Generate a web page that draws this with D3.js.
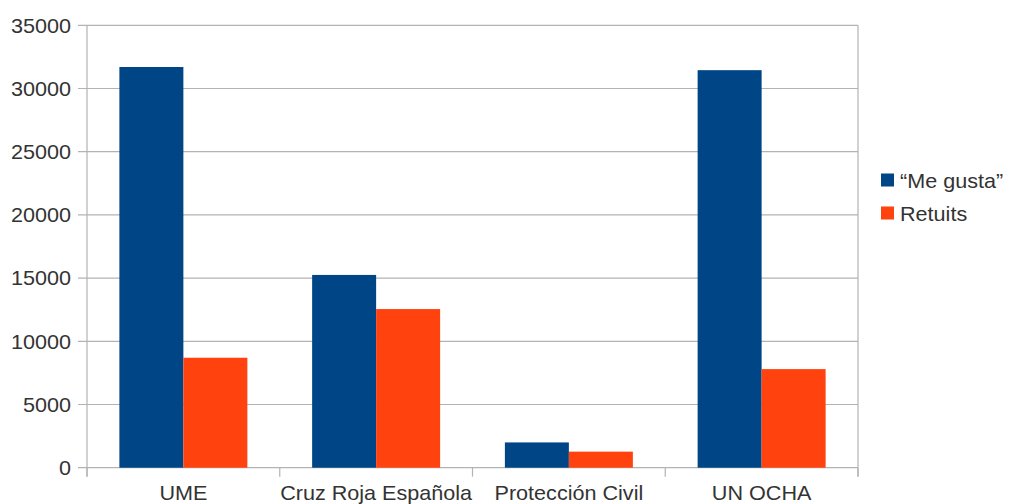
<!DOCTYPE html>
<html><head><meta charset="utf-8">
<script src="https://cdn.jsdelivr.net/npm/d3@7"></script>
<style>body{margin:0;background:#fff}svg{display:block}text{font-family:"Liberation Sans",Arial,sans-serif;fill:#333}</style>
</head><body><svg id="c" width="1009" height="504"></svg>
<script>
const categories = ["UME", "Cruz Roja Española", "Protección Civil", "UN OCHA"];
const seriesNames = ["\u201cMe gusta\u201d", "Retuits"];
const meGusta = [31700, 15250, 2000, 31450];
const retuits = [8700, 12550, 1270, 7800];
const yTicks = [0, 5000, 10000, 15000, 20000, 25000, 30000, 35000];
const colors = ["#004586", "#ff420e"];

const svg = d3.select("#c");
const pL = 87, pR = 858, pT = 25.3, pB = 467.7;
const sx = 1.08;
const x = d3.scaleBand().domain(categories).range([pL, pR]);
const y = d3.scaleLinear().domain([0, 35000]).range([pB, pT]);
const barW = x.bandwidth() * 0.332;
const inner = d3.scaleBand().domain([0, 1]).range([0, barW * 2]);

svg.append("g").selectAll("line").data(yTicks).join("line")
  .attr("x1", pL - 9).attr("x2", pR)
  .attr("y1", d => y(d)).attr("y2", d => y(d))
  .attr("stroke", "#b3b3b3").attr("stroke-width", 1.2);
svg.append("line").attr("x1", pL).attr("x2", pL).attr("y1", pT).attr("y2", pB + 9).attr("stroke", "#b3b3b3").attr("stroke-width", 1.2);
svg.append("line").attr("x1", pR).attr("x2", pR).attr("y1", pT).attr("y2", pB + 9).attr("stroke", "#b3b3b3").attr("stroke-width", 1.2);
const bounds = categories.map(c => x(c)).concat([pR]);
svg.append("g").selectAll("line").data(bounds).join("line")
  .attr("x1", d => d).attr("x2", d => d).attr("y1", pB).attr("y2", pB + 9)
  .attr("stroke", "#b3b3b3").attr("stroke-width", 1.2);

svg.append("g").selectAll("text").data(yTicks).join("text")
  .attr("transform", d => `translate(71,${y(d)}) scale(${sx},1)`).attr("dy", "0.36em")
  .attr("text-anchor", "end").attr("font-size", 20).text(d => d);

const data = [meGusta, retuits];
data.forEach((vals, si) => {
  svg.append("g").selectAll("rect").data(vals).join("rect")
    .attr("x", (d, i) => x(categories[i]) + (x.bandwidth() - barW * 2) / 2 + inner(si))
    .attr("width", inner.bandwidth())
    .attr("y", d => y(d)).attr("height", d => y(0) - y(d))
    .attr("fill", colors[si]);
});

svg.append("g").selectAll("text").data(categories).join("text")
  .attr("transform", d => `translate(${x(d) + x.bandwidth() / 2},500) scale(${sx},1)`)
  .attr("text-anchor", "middle").attr("font-size", 20).text(d => d);

const lg = svg.append("g");
seriesNames.forEach((n, i) => {
  lg.append("rect").attr("x", 881).attr("y", 173.5 + i * 33).attr("width", 13).attr("height", 13).attr("fill", colors[i]);
  lg.append("text").attr("transform", `translate(900,${187.5 + i * 33}) scale(${sx},1)`).attr("font-size", 20).text(n);
});
</script></body></html>
